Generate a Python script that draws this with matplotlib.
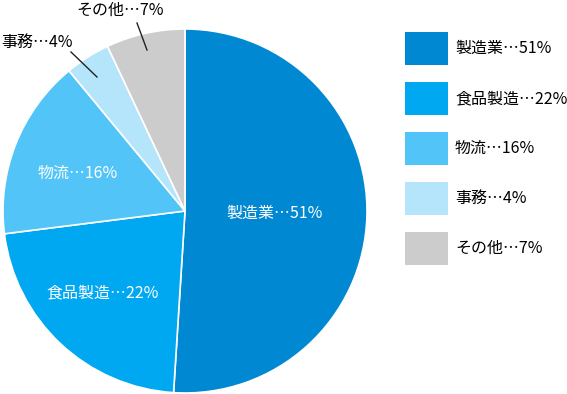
import matplotlib.pyplot as plt
from matplotlib.patches import Rectangle

plt.rcParams["font.family"] = ["Noto Sans CJK JP", "DejaVu Sans"]

labels = ["製造業", "食品製造", "物流", "事務", "その他"]
shares = [51, 22, 16, 4, 7]
colors = ["#0088d2", "#00a8f2", "#52c4f8", "#b5e5fb", "#cccccc"]
texts = ["%s…%d%%" % (l, v) for l, v in zip(labels, shares)]

W, H = 567, 394
fs = 11.5
fig = plt.figure(figsize=(W / 100, H / 100), dpi=100)

# pie centre (185, 211) px, radius 182 px
cx, cy, r = 185, 211, 182
ax = fig.add_axes([(cx - r) / W, (H - cy - r) / H, 2 * r / W, 2 * r / H])

ax.pie(shares, colors=colors, startangle=90, counterclock=False, radius=1,
       wedgeprops=dict(edgecolor="white", linewidth=1.2))
ax.set_xlim(-1, 1)
ax.set_ylim(-1, 1)
ax.axis("off")


def px(x, y):
    return (x - cx) / r, (cy - y) / r


# labels inside
inside = {0: (275, 213), 1: (103, 293), 2: (78, 173)}
for i, (x, y) in inside.items():
    ax.text(*px(x, y), texts[i], color="white", fontsize=fs,
            ha="center", va="center")

# outside labels with leader lines
ax.text(*px(1, 42), texts[3], fontsize=fs, ha="left", va="center")
ax.text(*px(120, 10), texts[4], fontsize=fs, ha="center", va="center")
for (x0, y0), (x1, y1) in [((71, 52), (97, 77)), ((137, 23), (147, 50))]:
    a, b = px(x0, y0), px(x1, y1)
    ax.plot([a[0], b[0]], [a[1], b[1]], color="#222222", lw=1, clip_on=False)

# legend drawn by hand
for i, (c, t) in enumerate(zip(colors, texts)):
    top = 32 + 50 * i
    fig.add_artist(Rectangle((405 / W, 1 - (top + 33) / H), 43 / W, 33 / H,
                             facecolor=c, edgecolor="none",
                             transform=fig.transFigure))
    fig.text(455 / W, 1 - (top + 16.5) / H, t, fontsize=fs, va="center")

fig.savefig("out.png", dpi=100)
